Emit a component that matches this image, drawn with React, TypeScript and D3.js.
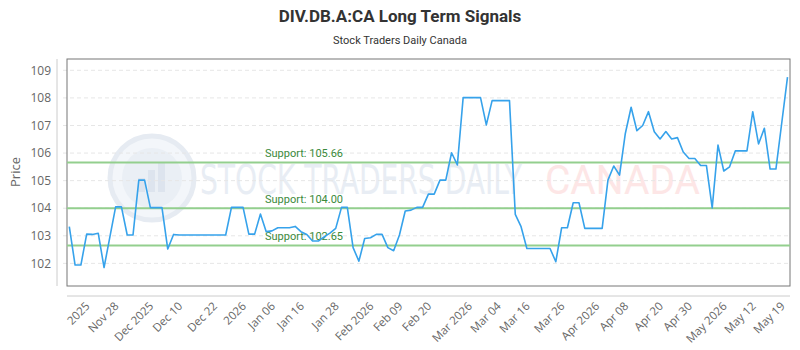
import React, { useEffect, useRef } from 'react';
import * as d3 from 'd3';

// Closing prices, one per session
const closes: number[] = [
  103.33, 101.94, 101.94, 103.06, 103.05, 103.09, 101.85, 102.95, 104.05, 104.05,
  103.03, 103.03, 105.02, 105.02, 104.02, 104.02, 104.02, 102.52, 103.05, 103.03,
  103.03, 103.03, 103.03, 103.03, 103.03, 103.03, 103.03, 103.03, 104.03, 104.03,
  104.03, 103.06, 103.06, 103.79, 103.15, 103.18, 103.29, 103.29, 103.29, 103.34,
  103.15, 103.05, 102.81, 102.81, 102.96, 103.1, 103.27, 104.03, 104.03, 102.57,
  102.08, 102.9, 102.93, 103.05, 103.05, 102.57, 102.46, 103.03, 103.9, 103.93,
  104.03, 104.03, 104.51, 104.51, 105.02, 105.02, 106.01, 105.57, 108.01, 108.01,
  108.01, 108.01, 107.02, 107.9, 107.9, 107.9, 107.9, 103.78, 103.33, 102.54,
  102.54, 102.54, 102.54, 102.54, 102.06, 103.29, 103.29, 104.2, 104.2, 103.27,
  103.27, 103.27, 103.27, 105.02, 105.53, 105.2, 106.71, 107.66, 106.81, 107.0,
  107.5, 106.77, 106.51, 106.78, 106.51, 106.56, 106.04, 105.8, 105.8, 105.55,
  105.55, 104.01, 106.29, 105.35, 105.5, 106.08, 106.08, 106.08, 107.5, 106.33,
  106.9, 105.42, 105.42, 107.08, 108.75,
];

// Date labels shown on the x axis and the session each one falls on
const dateLabels: string[] = [
  '2025', 'Nov 28', 'Dec 2025', 'Dec 10', 'Dec 22', '2026', 'Jan 06', 'Jan 16',
  'Jan 28', 'Feb 2026', 'Feb 09', 'Feb 20', 'Mar 2026', 'Mar 04', 'Mar 16', 'Mar 26',
  'Apr 2026', 'Apr 08', 'Apr 20', 'Apr 30', 'May 2026', 'May 12', 'May 19',
];
const dateLabelIndex: number[] = [
  3, 8, 14, 19, 25, 30, 35, 40, 46, 52, 57, 62, 69, 74, 79, 85, 91, 96, 102, 107, 113, 118, 123,
];

const supportLevels: number[] = [105.66, 104.0, 102.65];
const priceTicks: number[] = [102, 103, 104, 105, 106, 107, 108, 109];

const WIDTH = 800;
const HEIGHT = 350;

const SignalsChart: React.FC = () => {
  const svgRef = useRef<SVGSVGElement | null>(null);

  useEffect(() => {
    if (!svgRef.current) return;
    const svg = d3.select(svgRef.current);
    svg.selectAll('*').remove();

    const plot = { left: 67, right: 790, top: 59, bottom: 286 };

    const x = d3.scaleLinear().domain([0, closes.length - 1]).range([69.3, 787.5]);
    const y = d3.scaleLinear().domain([101.18, 109.41]).range([plot.bottom, plot.top]);

    // Titles
    svg.append('text')
      .attr('x', 400).attr('y', 22)
      .attr('text-anchor', 'middle')
      .attr('font-family', 'Roboto, sans-serif')
      .attr('font-weight', 700)
      .attr('font-size', 17)
      .attr('fill', '#333')
      .text('DIV.DB.A:CA Long Term Signals');

    svg.append('text')
      .attr('x', 400).attr('y', 44)
      .attr('text-anchor', 'middle')
      .attr('font-family', 'Roboto, sans-serif')
      .attr('font-size', 11)
      .attr('fill', '#333')
      .text('Stock Traders Daily Canada');

    // Watermark
    const wm = svg.append('g');
    wm.append('circle')
      .attr('cx', 152).attr('cy', 178).attr('r', 42)
      .attr('fill', '#f3f6fa').attr('stroke', '#e6ebf2').attr('stroke-width', 5);
    wm.append('circle')
      .attr('cx', 152).attr('cy', 178).attr('r', 30)
      .attr('fill', '#eaeff5');
    [[-14, 14], [-4, 22], [6, 30]].forEach(([dx, h]) => {
      wm.append('rect')
        .attr('x', 152 + dx).attr('y', 192 - h).attr('width', 7).attr('height', h)
        .attr('fill', '#dde4ee');
    });
    wm.append('text')
      .attr('x', 200).attr('y', 194)
      .attr('font-family', '"DejaVu Sans Condensed", Roboto, sans-serif')
      .attr('font-size', 40)
      .attr('textLength', 322)
      .attr('lengthAdjust', 'spacingAndGlyphs')
      .attr('fill', '#e8edf4')
      .text('STOCK TRADERS DAILY');
    wm.append('text')
      .attr('x', 545).attr('y', 194)
      .attr('font-family', 'Roboto, sans-serif')
      .attr('font-size', 40)
      .attr('textLength', 155)
      .attr('lengthAdjust', 'spacingAndGlyphs')
      .attr('fill', '#fde6e6')
      .text('CANADA');

    // Horizontal grid
    svg.append('g')
      .selectAll('line')
      .data(priceTicks)
      .join('line')
      .attr('x1', plot.left - 4).attr('x2', plot.right)
      .attr('y1', (d) => y(d)).attr('y2', (d) => y(d))
      .attr('stroke', '#e6e6e6')
      .attr('stroke-dasharray', '4,3');

    // Outer axis lines
    svg.append('line')
      .attr('x1', 57).attr('x2', 57).attr('y1', plot.top).attr('y2', plot.bottom)
      .attr('stroke', '#ccc');
    svg.append('line')
      .attr('x1', plot.left).attr('x2', plot.right).attr('y1', 296).attr('y2', 296)
      .attr('stroke', '#ccc');

    // Plot frame
    svg.append('rect')
      .attr('x', plot.left).attr('y', plot.top)
      .attr('width', plot.right - plot.left).attr('height', plot.bottom - plot.top)
      .attr('fill', 'none').attr('stroke', '#777');

    // Y tick labels
    svg.append('g')
      .selectAll('text')
      .data(priceTicks)
      .join('text')
      .attr('x', 51).attr('y', (d) => y(d))
      .attr('dy', '0.35em')
      .attr('text-anchor', 'end')
      .attr('font-family', '"Open Sans", sans-serif')
      .attr('font-size', 12)
      .attr('fill', '#666')
      .text((d) => d);

    svg.append('text')
      .attr('transform', 'translate(20,172) rotate(-90)')
      .attr('text-anchor', 'middle')
      .attr('font-family', '"Open Sans", sans-serif')
      .attr('font-size', 13)
      .attr('fill', '#666')
      .text('Price');

    // X tick labels
    svg.append('g')
      .selectAll('text')
      .data(dateLabels)
      .join('text')
      .attr('transform', (_, i) => `translate(${x(dateLabelIndex[i]) + 1},${304}) rotate(-45)`)
      .attr('text-anchor', 'end')
      .attr('dy', '0.35em')
      .attr('font-family', '"Open Sans", sans-serif')
      .attr('font-size', 11.5)
      .attr('fill', '#666')
      .text((d) => d);

    // Support lines
    const support = svg.append('g');
    support.selectAll('line')
      .data(supportLevels)
      .join('line')
      .attr('x1', plot.left).attr('x2', plot.right)
      .attr('y1', (d) => y(d)).attr('y2', (d) => y(d))
      .attr('stroke', '#93cf8e')
      .attr('stroke-width', 2);

    // Price line
    const line = d3.line<number>()
      .x((_, i) => x(i))
      .y((d) => y(d));
    svg.append('path')
      .datum(closes)
      .attr('d', line)
      .attr('fill', 'none')
      .attr('stroke', '#36A2EB')
      .attr('stroke-width', 1.6)
      .attr('stroke-linejoin', 'round');

    support.selectAll('text')
      .data(supportLevels)
      .join('text')
      .attr('x', 265).attr('y', (d) => y(d) - 5)
      .attr('font-family', 'Roboto, sans-serif')
      .attr('font-size', 11)
      .attr('fill', '#3b8a3b')
      .text((d) => `Support: ${d.toFixed(2)}`);
  }, []);

  return (
    <svg
      ref={svgRef}
      width={WIDTH}
      height={HEIGHT}
      style={{ position: 'absolute', left: 0, top: 0, background: '#fff' }}
    />
  );
};

export default function App() {
  return <SignalsChart />;
}
